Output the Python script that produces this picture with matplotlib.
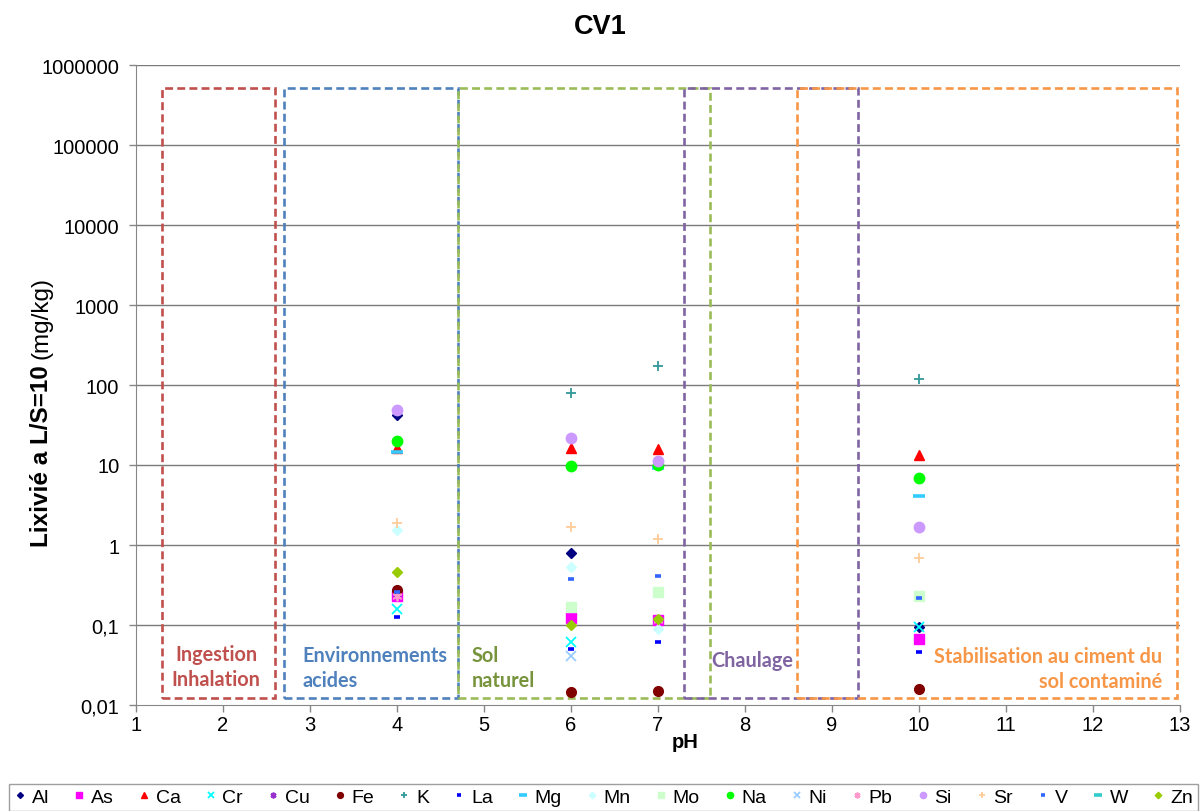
import numpy as np
import matplotlib.pyplot as plt
import matplotlib.patches as patches

plt.rcParams['font.family'] = ['Liberation Sans', 'DejaVu Sans']

# pH des essais de lixiviation
ph = [4, 6, 7, 10]

# concentrations lixiviées (mg/kg) par élément, aux pH ci-dessus
elements = ['Al', 'As', 'Ca', 'Cr', 'Cu', 'Fe', 'K', 'La', 'Mg', 'Mn',
            'Mo', 'Na', 'Ni', 'Pb', 'Si', 'Sr', 'V', 'W', 'Zn']
nan = np.nan
al = [42, 0.79, nan, 0.094]
as_ = [0.23, 0.123, 0.116, 0.066]
ca = [16.3, 16.3, 16.0, 13.3]
cr = [0.158, 0.062, nan, 0.094]
cu = [0.25, nan, 0.115, nan]
fe = [0.27, 0.0145, 0.015, 0.016]
k = [nan, 79, 174, 119]
la = [0.126, 0.050, 0.062, 0.046]
mg = [14.5, nan, 9.3, 4.1]
mn = [1.55, 0.53, 0.089, nan]
mo = [nan, 0.17, 0.26, 0.23]
na = [20, 9.7, 10, 6.9]
ni = [nan, 0.041, nan, nan]
pb = [0.23, nan, 0.115, nan]
si = [49, 21.7, 11.2, 1.68]
sr = [1.88, 1.68, 1.19, 0.69]
v = [0.26, 0.376, 0.41, 0.22]
w = [nan, nan, nan, nan]
zn = [0.46, 0.10, 0.118, nan]
valeurs = [al, as_, ca, cr, cu, fe, k, la, mg, mn, mo, na, ni, pb, si, sr, v, w, zn]

# style de chaque série : (marqueur, couleur, taille)
styles = {
    'Al': ('D', '#000080', 5),
    'As': ('s', '#FF00FF', 6.5),
    'Ca': ('^', '#FF0000', 7.5),
    'Cr': ('x', '#00FFFF', 6.5),
    'Cu': ((6, 2, 0), '#9933CC', 7),
    'Fe': ('o', '#800000', 7),
    'K': ('+', '#339999', 7),
    'La': ('_', '#0000FF', 5),
    'Mg': ('_', '#33CCFF', 9),
    'Mn': ('D', '#CCFFFF', 5.5),
    'Mo': ('s', '#CCFFCC', 7),
    'Na': ('o', '#00FF00', 7.5),
    'Ni': ('x', '#99CCFF', 6.5),
    'Pb': ((6, 2, 0), '#FF99CC', 7),
    'Si': ('o', '#CC99FF', 7.5),
    'Sr': ('+', '#FFCC99', 7),
    'V': ('_', '#3366FF', 5),
    'W': ('_', '#33CCCC', 9),
    'Zn': ('D', '#99CC00', 5.5),
}

# scénarios : (texte, xmin, xmax, couleur)
scenarios = [
    ('Ingestion\nInhalation', 1.3, 2.6, '#C0504D'),
    ('Environnements\nacides', 2.7, 4.7, '#4F81BD'),
    ('Sol\nnaturel', 4.7, 7.6, '#9BBB59'),
    ('Chaulage', 7.3, 9.3, '#8064A2'),
    ('Stabilisation au ciment du\nsol contaminé', 8.6, 12.97, '#F79646'),
]
box_bas, box_haut = 0.0122, 5.2e5

fig = plt.figure(figsize=(12.01, 8.12), dpi=100)
ax = fig.add_axes([136 / 1201, 1 - 706 / 812, (1180 - 136) / 1201, (706 - 66) / 812])

ax.set_yscale('log')
ax.set_xlim(1, 13)
ax.set_ylim(0.01, 1e6)
yt = [0.01, 0.1, 1, 10, 100, 1000, 10000, 100000, 1000000]
ax.set_yticks(yt)
ax.set_yticklabels(['0,01', '0,1', '1', '10', '100', '1000', '10000', '100000', '1000000'])
ax.yaxis.set_minor_locator(plt.NullLocator())
ax.set_xticks(range(1, 14))
ax.tick_params(labelsize=14.5, color='#868686', length=5, width=1)
ax.tick_params(axis='y', pad=7)
ax.tick_params(axis='x', pad=2)
for t in yt[1:]:
    ax.axhline(t, color='#7a7a7a', lw=1, zorder=0)
for s in ['top', 'right']:
    ax.spines[s].set_visible(False)
for s in ['left', 'bottom']:
    ax.spines[s].set_color('#868686')

for label, x0, x1, col in scenarios:
    rect = patches.Rectangle((x0, box_bas), x1 - x0, box_haut - box_bas, fill=False,
                             edgecolor=col, lw=1.9, linestyle=(0, (3, 1.6)), zorder=1)
    ax.add_patch(rect)

txt = dict(fontsize=14.3, fontweight='bold', family=['Lato', 'DejaVu Sans'], linespacing=1.3)
ax.text(1.92, 0.03, scenarios[0][0], color='#C0504D', ha='center', va='center', **txt)
ax.text(2.91, 0.0295, scenarios[1][0], color='#4F81BD', ha='left', va='center', **txt)
ax.text(4.86, 0.0295, scenarios[2][0], color='#77933C', ha='left', va='center', **txt)
ax.text(7.61, 0.0365, scenarios[3][0], color='#8064A2', ha='left', va='center', **txt)
ax.text(12.80, 0.0285, scenarios[4][0], color='#F79646', ha='right', va='center',
        multialignment='right', **txt)

for nom, vals in zip(elements, valeurs):
    m, c, ms = styles[nom]
    if m == '_':
        ax.plot(ph, vals, ls='none', marker=m, color=c, ms=ms, mew=2.6, label=nom, zorder=3)
    elif m in ('x', '+') or isinstance(m, tuple):
        ax.plot(ph, vals, ls='none', marker=m, color=c, ms=ms, mew=1.3, label=nom, zorder=3)
    else:
        ax.plot(ph, vals, ls='none', marker=m, color=c, mec=c, ms=ms, label=nom, zorder=3)

fig.text(0.5, 1 - 27 / 812, 'CV1', ha='center', va='center', fontsize=19.5, fontweight='bold')
fig.text(685 / 1201, 1 - 742 / 812, 'pH', ha='center', va='center', fontsize=14.5, fontweight='bold')

# titre de l'axe y : partie grasse puis unité, l'une à la suite de l'autre
yl_bold = fig.text(42 / 1201, 1 - 547 / 812, 'Lixivié a L/S=10', rotation=90, ha='center',
                   va='bottom', fontsize=17.5, fontweight='bold')
fig.canvas.draw()
bb = yl_bold.get_window_extent(fig.canvas.get_renderer())
fig.text(42 / 1201, (bb.y1 + 6) / fig.bbox.height, '(mg/kg)', rotation=90, ha='center',
         va='bottom', fontsize=17.5)

leg = fig.legend(loc='lower center', bbox_to_anchor=(0.5025, -0.012), ncol=19, fontsize=14,
                 frameon=True, fancybox=False, edgecolor='#868686', handlelength=0.6,
                 handletextpad=0.3, columnspacing=1.25, markerscale=0.6, borderpad=0.25)
leg.get_frame().set_linewidth(1)

fig.savefig('out.png', dpi=100)
